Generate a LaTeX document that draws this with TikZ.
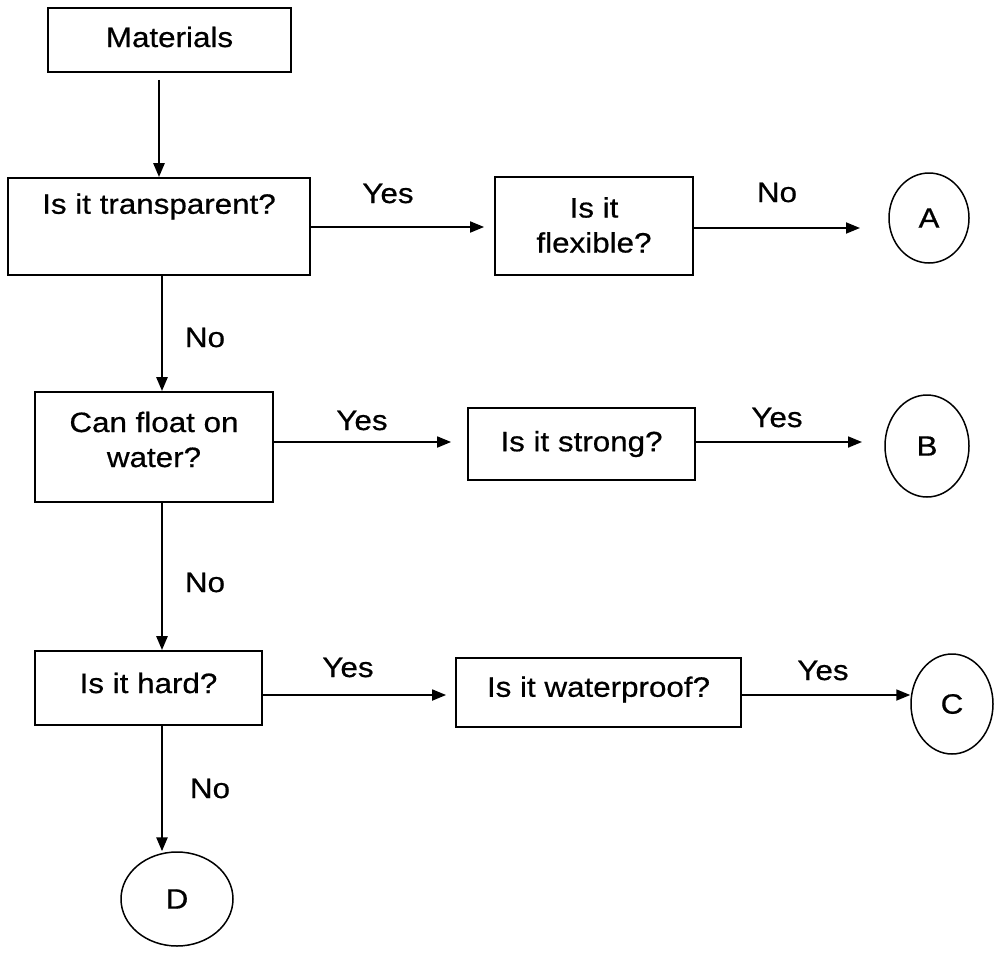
\documentclass[tikz,border=0pt]{standalone}
\usepackage{fontspec}
\setmainfont{Liberation Sans}[FakeStretch=1.12,FakeBold=0.6]
\usetikzlibrary{arrows.meta,shapes.geometric}
\newcommand\liftby[2]{\raisebox{#1}[\height][\depth]{#2}}
\newcommand\twoline[1]{\begin{tabular}{@{}c@{}}#1\end{tabular}}
\begin{document}
\begin{tikzpicture}[x=1pt,y=-1pt,
  txt/.style={font=\fontsize{28}{35}\selectfont},
  box/.style={txt, draw, line width=1.8pt, inner sep=0pt},
  term/.style={txt, draw, ellipse, line width=1.5pt, inner sep=0pt},
  lbl/.style={txt, anchor=base, inner sep=0pt},
  arr/.style={line width=1.8pt, -{Triangle[length=14pt,width=11pt]}},
  varr/.style={arr, line width=2.6pt},
]
\useasboundingbox (0,0) rectangle (1001,956);

% boxes
\node[box, minimum width=243pt, minimum height=64pt] (mat) at (169.5,40) {\liftby{3pt}{Materials}};
\node[box, minimum width=302pt, minimum height=97pt] (trans) at (159,226.5) {\liftby{20pt}{Is it transparent?}};
\node[box, minimum width=198pt, minimum height=98pt] (flex) at (594,226) {\liftby{-2pt}{\twoline{Is it\\flexible?}}};
\node[box, minimum width=238pt, minimum height=110pt] (float) at (154,447) {\liftby{4.5pt}{\twoline{Can float on\\water?}}};
\node[box, minimum width=227pt, minimum height=72pt] (strong) at (581.5,444) {Is it strong?};
\node[box, minimum width=227pt, minimum height=74pt] (hard) at (148.5,688) {\liftby{5pt}{Is it hard?}};
\node[box, minimum width=285pt, minimum height=69pt] (water) at (598.5,692.5) {\liftby{3pt}{Is it waterproof?}};

% terminals
\node[term, minimum width=80pt, minimum height=90pt] (A) at (929,218) {A};
\node[term, minimum width=84pt, minimum height=102pt] (B) at (927,446) {B};
\node[term, minimum width=82pt, minimum height=100pt] (C) at (952,704) {C};
\node[term, minimum width=112pt, minimum height=94pt] (D) at (177,899) {D};

% helper coordinates
\coordinate (mx) at (159,0);
\coordinate (vx) at (162,0);
\coordinate (r1) at (0,227);
\coordinate (Atip) at (860,228);
\coordinate (r2) at (0,442);
\coordinate (Btip) at (862,442);
\coordinate (r3) at (0,695);

% vertical connectors
\draw[varr, shorten <=7pt] (mat.south -| mx) -- (trans.north -| mx);
\draw[varr] (trans.south -| vx) -- (float.north -| vx);
\draw[varr] (float.south -| vx) -- (hard.north -| vx);
\draw[varr] (hard.south -| vx) -- (D.north -| vx);

% horizontal connectors
\draw[arr, shorten >=10pt] (trans.east |- r1) -- (flex.west |- r1);
\draw[arr] (flex.east |- Atip) -- (Atip);
\draw[arr, shorten >=16pt] (float.east |- r2) -- (strong.west |- r2);
\draw[arr] (strong.east |- Btip) -- (Btip);
\draw[arr, shorten >=9pt] (hard.east |- r3) -- (water.west |- r3);
\draw[arr] (water.east |- r3) -- (C.west |- r3);

% labels
\node[lbl] (y1) at (388,203) {Yes};
\node[lbl] (n1) at (777,202) {No};
\node[lbl] (n2) at (205,347) {No};
\node[lbl] (y2) at (362,430) {Yes};
\node[lbl] (y3) at (777,427) {Yes};
\node[lbl] (n3) at (205,592) {No};
\node[lbl] (y4) at (348,677) {Yes};
\node[lbl] (y5) at (823,680) {Yes};
\node[lbl] (n4) at (210,798) {No};
\end{tikzpicture}
\end{document}
